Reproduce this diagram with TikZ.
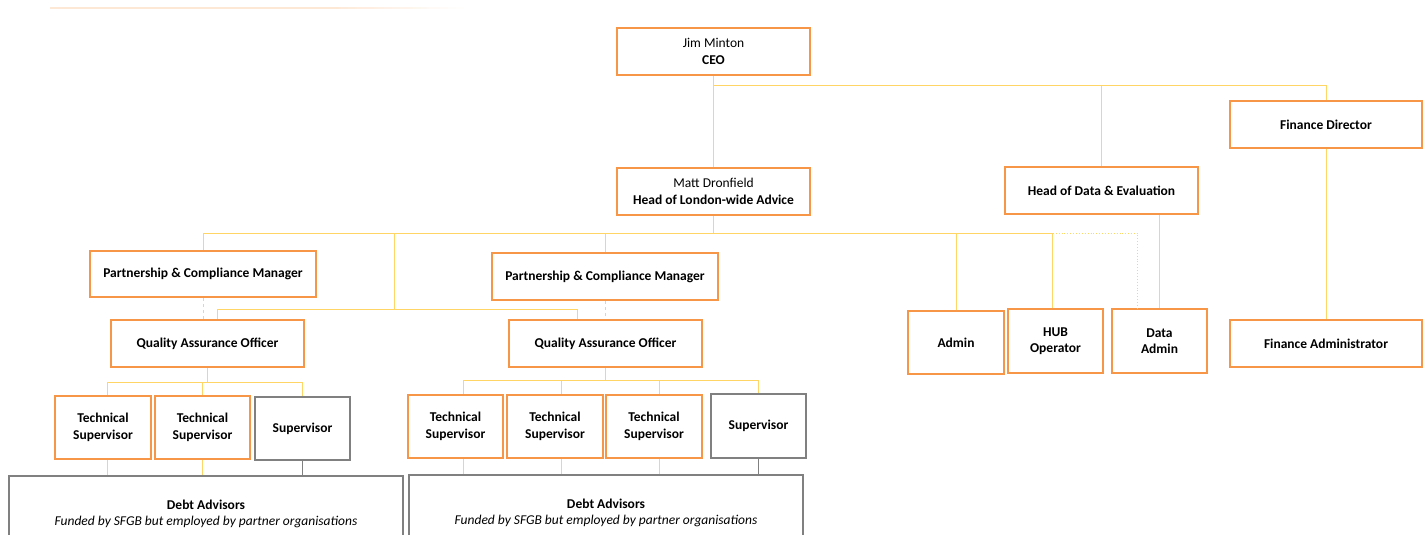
\documentclass[tikz,border=0pt]{standalone}
\usepackage{fontspec}
\setmainfont{Carlito}
\usepackage{color}

\definecolor{boxorange}{RGB}{247,150,70}
\definecolor{linkgold}{RGB}{255,214,102}
\definecolor{boxgray}{RGB}{128,128,128}

\begin{document}
\begin{tikzpicture}[%
      x=1pt, y=-1pt,
      font=\fontsize{13.5}{16.5}\selectfont,
      box/.style={draw=boxorange, line width=2.2pt, fill=white, align=center,
                  inner sep=2pt, font=\fontsize{13.5}{16.5}\selectfont\bfseries},
      gbox/.style={box, draw=boxgray, line width=1.8pt},
      link/.style={color=linkgold, line width=0.9pt},
      glink/.style={color=boxgray, line width=0.9pt},
      ]
      \useasboundingbox (0,0) rectangle (1426,535);
      \clip (0,0) rectangle (1426,535);

      \fill [color=boxorange!22] (50,7) rectangle (330,9);
      \foreach \i in {0,...,14}
        \fill [color=boxorange!\the\numexpr 22-\i*3/2\relax] (330+\i*9,7) rectangle (339.5+\i*9,9);

      % top of the tree
      \node [box, minimum width=193, minimum height=47] (ceo) at (713.5,51.5)
            {\mdseries Jim Minton\\CEO};
      \node [box, minimum width=192, minimum height=47] (findir) at (1326,124.5) {Finance Director};
      \node [box, minimum width=193, minimum height=47] (hlon) at (713.5,191.5)
            {\mdseries Matt Dronfield\\Head of London-wide Advice};
      \node [box, minimum width=193, minimum height=47] (hdata) at (1101.5,190.5) {Head of Data \& Evaluation};

      % managers and officers
      \node [box, minimum width=226, minimum height=46] (pcma) at (203,274) {Partnership \& Compliance Manager};
      \node [box, minimum width=226, minimum height=47] (pcmb) at (605,276.5) {Partnership \& Compliance Manager};
      \node [box, minimum width=193, minimum height=47] (qaa) at (207.5,343.5) {Quality Assurance Officer};
      \node [box, minimum width=193, minimum height=47] (qab) at (605.5,343.5) {Quality Assurance Officer};

      \node [box, minimum width=96, minimum height=63] (admin) at (956,342.5) {Admin};
      \node [box, minimum width=95, minimum height=64] (hub) at (1055.5,341) {HUB\\Operator};
      \node [box, minimum width=95, minimum height=64] (dadmin) at (1159.5,341) {Data\\Admin};
      \node [box, minimum width=192, minimum height=47] (finadm) at (1326,343.5) {Finance Administrator};

      % supervisors
      \node [box, minimum width=96, minimum height=63] (tsa) at (103,427.5) {Technical\\Supervisor};
      \node [box, minimum width=95, minimum height=63] (tsb) at (202.5,427.5) {Technical\\Supervisor};
      \node [gbox, minimum width=95, minimum height=63] (supa) at (302.5,428.5) {Supervisor};
      \node [box, minimum width=95, minimum height=63] (tsc) at (455.5,426.5) {Technical\\Supervisor};
      \node [box, minimum width=96, minimum height=63] (tsd) at (555,426.5) {Technical\\Supervisor};
      \node [box, minimum width=96, minimum height=63] (tse) at (654,426.5) {Technical\\Supervisor};
      \node [gbox, minimum width=95, minimum height=64] (supb) at (758.5,426) {Supervisor};

      \node [gbox, anchor=north, minimum width=394, minimum height=76] (debta) at (206,475)
            {Debt Advisors\\\mdseries\itshape Funded by SFGB but employed by partner organisations};
      \node [gbox, anchor=north, minimum width=394, minimum height=76] (debtb) at (606,474)
            {Debt Advisors\\\mdseries\itshape Funded by SFGB but employed by partner organisations};

      % connectors
      \coordinate (ceobus) at (713.5,85);
      \coordinate (lonbus) at (713.5,233);
      \coordinate (qabus) at (394,309);
      \coordinate (qaabus) at (207.5,382);
      \coordinate (qabbus) at (605.5,380);

      \draw [link] (ceo.south) -- (hlon.north);
      \draw [link] (ceobus) -| (hdata.north);
      \draw [link] (ceobus) -| (findir.north);
      \draw [link] (findir.south) -- (finadm.north);

      \draw [link] (hlon.south) -- (lonbus);
      \draw [link] (lonbus) -| (pcma.north);
      \draw [link] (lonbus) -| (pcmb.north);
      \draw [link] (lonbus) -| (admin.north);
      \draw [link] (lonbus) -| ([xshift=-3pt]hub.north);
      \draw [link, dotted] (lonbus) -| ([xshift=-22pt]dadmin.north);
      \draw [link] (dadmin.north |- hdata.south) -- (dadmin.north);

      \draw [link] (qabus |- lonbus) -- (qabus);
      \draw [link] (qabus) -| ([xshift=10pt]qaa.north);
      \draw [link] (qabus) -| ([xshift=-28pt]qab.north);
      \draw [link, dashed] (pcma.south) -- (pcma.south |- qaa.north);
      \draw [link, dashed] (pcmb.south) -- (pcmb.south |- qab.north);

      \draw [link] (qaa.south) -- (qaabus);
      \draw [link] (qaabus) -| ([xshift=4pt]tsa.north);
      \draw [link] (qaabus) -| (tsb.north);
      \draw [link] (qaabus) -| (supa.north);
      \draw [link] (qab.south) -- (qabbus);
      \draw [link] (qabbus) -| ([xshift=8pt]tsc.north);
      \draw [link] (qabbus) -| ([xshift=6pt]tsd.north);
      \draw [link] (qabbus) -| ([xshift=5pt]tse.north);
      \draw [link] (qabbus) -| (supb.north);

      \draw [link] ([xshift=4pt]tsa.south) -- ([xshift=4pt]tsa.south |- debta.north);
      \draw [link] (tsb.south) -- (tsb.south |- debta.north);
      \draw [glink] (supa.south) -- (supa.south |- debta.north);
      \draw [link] ([xshift=8pt]tsc.south) -- ([xshift=8pt]tsc.south |- debtb.north);
      \draw [link] ([xshift=6pt]tsd.south) -- ([xshift=6pt]tsd.south |- debtb.north);
      \draw [link] ([xshift=5pt]tse.south) -- ([xshift=5pt]tse.south |- debtb.north);
      \draw [glink] (supb.south) -- (supb.south |- debtb.north);
\end{tikzpicture}
\end{document}
